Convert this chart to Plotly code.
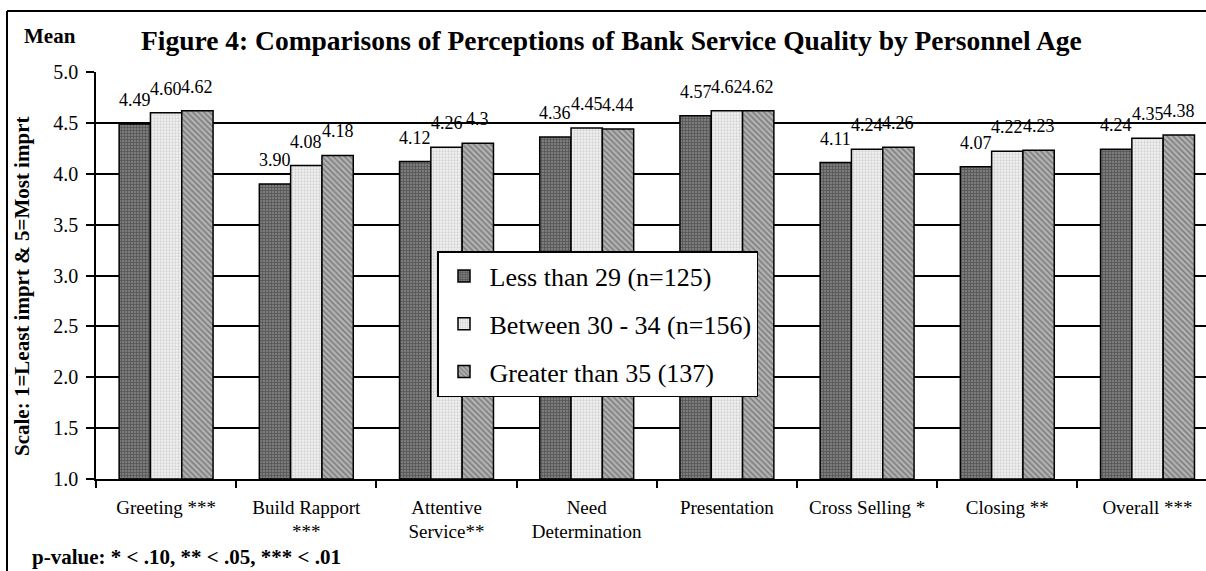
import plotly.graph_objects as go

# Service-quality dimensions (x categories)
categories = [
    "Greeting ***",
    "Build Rapport<br>***",
    "Attentive<br>Service**",
    "Need<br>Determination",
    "Presentation",
    "Cross Selling *",
    "Closing **",
    "Overall ***",
]

# Mean scores as printed above each bar, per age group
labels_under29 = ["4.49", "3.90", "4.12", "4.36", "4.57", "4.11", "4.07", "4.24"]
labels_30_34 = ["4.60", "4.08", "4.26", "4.45", "4.62", "4.24", "4.22", "4.35"]
labels_over35 = ["4.62", "4.18", "4.3", "4.44", "4.62", "4.26", "4.23", "4.38"]

series_names = [
    "Less than 29 (n=125)",
    "Between 30 - 34 (n=156)",
    "Greater than 35 (137)",
]
series_labels = [labels_under29, labels_30_34, labels_over35]
series_values = [[float(s) for s in lab] for lab in series_labels]

y_ticks = [1.0, 1.5, 2.0, 2.5, 3.0, 3.5, 4.0, 4.5, 5.0]

# Figure geometry (pixels)
W, H = 1206, 571
PLOT_L, PLOT_R, PLOT_T, PLOT_B = 96, 1206, 72, 479
CAT_W = 140.2
BARGAP = 0.33

SERIF = "Liberation Serif"

patterns = [
    dict(shape="+", bgcolor="#7c7c7c", fgcolor="#2e2e2e", size=3, solidity=0.45),
    dict(shape=".", bgcolor="#f2f2f2", fgcolor="#b4b4b4", size=3, solidity=0.45),
    dict(shape="\\", bgcolor="#b4b4b4", fgcolor="#4a4a4a", size=4, solidity=0.45),
]


def px_x(px):
    return (px - PLOT_L) / (PLOT_R - PLOT_L)


def px_y(py):
    return (PLOT_B - py) / (PLOT_B - PLOT_T)


fig = go.Figure()
for i, (name, vals) in enumerate(zip(series_names, series_values)):
    fig.add_trace(
        go.Bar(
            x=categories,
            y=[v - 1.0 for v in vals],
            base=1.0,
            name=name,
            legendgroup=f"g{i}",
            marker=dict(
                color=patterns[i]["bgcolor"],
                line=dict(color="black", width=1.5),
                pattern=dict(fillmode="overlay", **patterns[i]),
            ),
            hoverinfo="skip",
        )
    )

# Value labels above the bars
bar_w = (1 - BARGAP) / len(series_names)
annotations = []
for i, (labs, vals) in enumerate(zip(series_labels, series_values)):
    offset = (i - (len(series_names) - 1) / 2) * bar_w
    for j, (lab, v) in enumerate(zip(labs, vals)):
        annotations.append(
            dict(
                x=j + offset,
                y=v,
                xref="x",
                yref="y",
                text=lab,
                showarrow=False,
                yanchor="bottom",
                yshift=12,
                font=dict(family=SERIF, size=18, color="black"),
            )
        )

annotations += [
    dict(
        x=px_x(611), y=px_y(40), xref="paper", yref="paper",
        text="<b>Figure 4: Comparisons of Perceptions of Bank Service Quality by Personnel Age</b>",
        showarrow=False, xanchor="center", yanchor="middle",
        font=dict(family=SERIF, size=27.5, color="black"),
    ),
    dict(
        x=px_x(50), y=px_y(36), xref="paper", yref="paper",
        text="<b>Mean</b>", showarrow=False, xanchor="center", yanchor="middle",
        font=dict(family=SERIF, size=21, color="black"),
    ),
    dict(
        x=px_x(22), y=px_y(287), xref="paper", yref="paper",
        text="<b>Scale: 1=Least imprt & 5=Most imprt</b>", textangle=-90,
        showarrow=False, xanchor="center", yanchor="middle",
        font=dict(family=SERIF, size=21, color="black"),
    ),
    dict(
        x=px_x(30), y=px_y(557), xref="paper", yref="paper",
        text="<b>p-value: * < .10, ** < .05, *** < .01</b>",
        showarrow=False, xanchor="left", yanchor="middle",
        font=dict(family=SERIF, size=21, color="black"),
    ),
]

shapes = [
    # outer frame: left edge and top edge
    dict(type="line", xref="paper", yref="paper",
         x0=px_x(7), x1=px_x(7), y0=px_y(11), y1=px_y(700),
         line=dict(color="black", width=2)),
    dict(type="line", xref="paper", yref="paper",
         x0=px_x(7), x1=px_x(1300), y0=px_y(11), y1=px_y(11),
         line=dict(color="black", width=2)),
]

fig.update_layout(
    width=W,
    height=H,
    margin=dict(l=PLOT_L, r=W - PLOT_R, t=PLOT_T, b=H - PLOT_B, autoexpand=False),
    paper_bgcolor="white",
    plot_bgcolor="white",
    barmode="group",
    bargap=BARGAP,
    bargroupgap=0,
    showlegend=True,
    legend=dict(
        x=px_x(437), y=px_y(251), xanchor="left", yanchor="top",
        bgcolor="white", bordercolor="black", borderwidth=1.5,
        font=dict(family=SERIF, size=26, color="black"),
        traceorder="grouped",
        tracegroupgap=11,
        itemwidth=41,
    ),
    annotations=annotations,
    shapes=shapes,
    xaxis=dict(
        type="category",
        range=[-0.5, -0.5 + (PLOT_R - PLOT_L) / CAT_W],
        showline=True, linecolor="black", linewidth=1.5,
        ticks="outside", ticklen=7, tickwidth=1.5, tickcolor="black",
        tickson="boundaries",
        ticklabelstandoff=10,
        showgrid=False,
        tickfont=dict(family=SERIF, size=19, color="black"),
        fixedrange=True,
    ),
    yaxis=dict(
        range=[1.0, 5.0],
        tickvals=y_ticks,
        ticktext=[f"{t:.1f}" for t in y_ticks],
        showline=True, linecolor="black", linewidth=1.5,
        ticks="outside", ticklen=8, tickwidth=1.5, tickcolor="black",
        ticklabelstandoff=4,
        showgrid=True, gridcolor="black", gridwidth=1.5,
        zeroline=False,
        tickfont=dict(family=SERIF, size=20, color="black"),
        fixedrange=True,
    ),
    font=dict(family=SERIF, color="black"),
)

fig.write_html("out.html")
